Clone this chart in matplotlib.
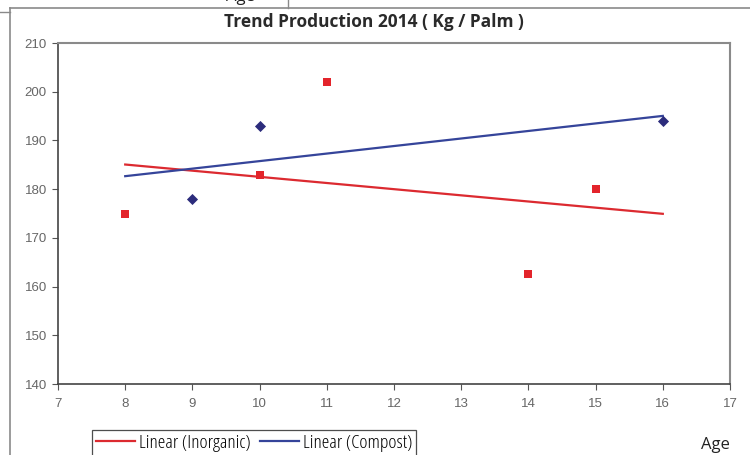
import numpy as np
import matplotlib
matplotlib.use("Agg")
import matplotlib.pyplot as plt
from matplotlib.lines import Line2D
from matplotlib.font_manager import FontProperties

# ---- data ----
inorganic_age = [8, 10, 11, 14, 15]
inorganic_prod = [175, 183, 202, 162.5, 180]
compost_age = [9, 10, 16]
compost_prod = [178, 193, 194]
trend_range = [8, 16]
title = "Trend Production 2014 ( Kg / Palm )"
x_ticks = list(range(7, 18))
y_ticks = list(range(140, 211, 10))

W, H = 750, 455
fig = plt.figure(figsize=(W / 100, H / 100), dpi=100)
fig.patch.set_facecolor('white')

def fx(px):
    return px / W

def fy(py):
    return 1 - py / H

tick_fp = FontProperties(family=['Liberation Sans', 'DejaVu Sans'], size=9.5)
narrow_leg = FontProperties(family=['Open Sans', 'DejaVu Sans'], stretch='condensed', weight='normal', size=14)
title_fp = FontProperties(family=['Open Sans', 'DejaVu Sans'], stretch='normal', weight='bold', size=12.5)
age_fp = FontProperties(family=['Open Sans', 'DejaVu Sans'], stretch='normal', size=12)

ax = fig.add_axes([fx(58), fy(384), fx(730) - fx(58), fy(43) - fy(384)])

red = '#e3242b'
blue = '#2c2c7c'
red_line = '#dc2a30'
blue_line = '#35449a'

ax.scatter(inorganic_age, inorganic_prod, marker='s', s=40, color=red, zorder=3, linewidths=0)
ax.scatter(compost_age, compost_prod, marker='D', s=32, color=blue, zorder=3, linewidths=0)

xs = np.array(trend_range, dtype=float)
p_in = np.polyfit(inorganic_age, inorganic_prod, 1)
p_co = np.polyfit(compost_age, compost_prod, 1)
l1, = ax.plot(xs, np.polyval(p_in, xs), color=red_line, lw=1.6, label='Linear (Inorganic)', zorder=2)
l2, = ax.plot(xs, np.polyval(p_co, xs), color=blue_line, lw=1.6, label='Linear (Compost)', zorder=2)

ax.set_xlim(7, 17)
ax.set_ylim(140, 210)
ax.set_xticks(x_ticks)
ax.set_yticks(y_ticks)
for lab in ax.get_xticklabels() + ax.get_yticklabels():
    lab.set_fontproperties(tick_fp)
    lab.set_color('#666666')
ax.tick_params(direction='out', length=4, width=0.8, color='#555555', pad=4)
ax.tick_params(axis='x', pad=6)
for side in ['top', 'right']:
    ax.spines[side].set_color('#8a8a8a')
    ax.spines[side].set_linewidth(1.5)
for side in ['left', 'bottom']:
    ax.spines[side].set_color('#444444')
    ax.spines[side].set_linewidth(1.2)

fig.text(fx(374), fy(22), title, ha='center', va='center', fontproperties=title_fp, color='#2a2a2a')

fig.text(fx(715), fy(445), 'Age', ha='center', va='center', fontproperties=age_fp, color='#222222')
# label cropped at top edge (as in the reference)
fig.text(fx(240), fy(-3), 'Age', ha='center', va='center', fontproperties=age_fp, color='#222222')

leg = fig.legend(handles=[l1, l2], loc='upper left', bbox_to_anchor=(fx(92), fy(430)),
                 ncol=2, frameon=True, fancybox=False, edgecolor='#222222',
                 prop=narrow_leg, handlelength=2.0,
                 handletextpad=0.2, columnspacing=0.5, borderpad=0.2,
                 borderaxespad=0)
leg.get_frame().set_linewidth(0.9)

# page frame lines
gray = '#8a8a8a'
fig.add_artist(Line2D([fx(10), fx(750)], [fy(8), fy(8)], color=gray, lw=1.2))
fig.add_artist(Line2D([fx(10), fx(10)], [fy(8), fy(455)], color=gray, lw=1.2))
fig.add_artist(Line2D([fx(0), fx(10)], [fy(12), fy(12)], color=gray, lw=1.0))
fig.add_artist(Line2D([fx(288), fx(288)], [fy(0), fy(8)], color=gray, lw=1.0))

fig.savefig('out.png', dpi=100, facecolor='white')
